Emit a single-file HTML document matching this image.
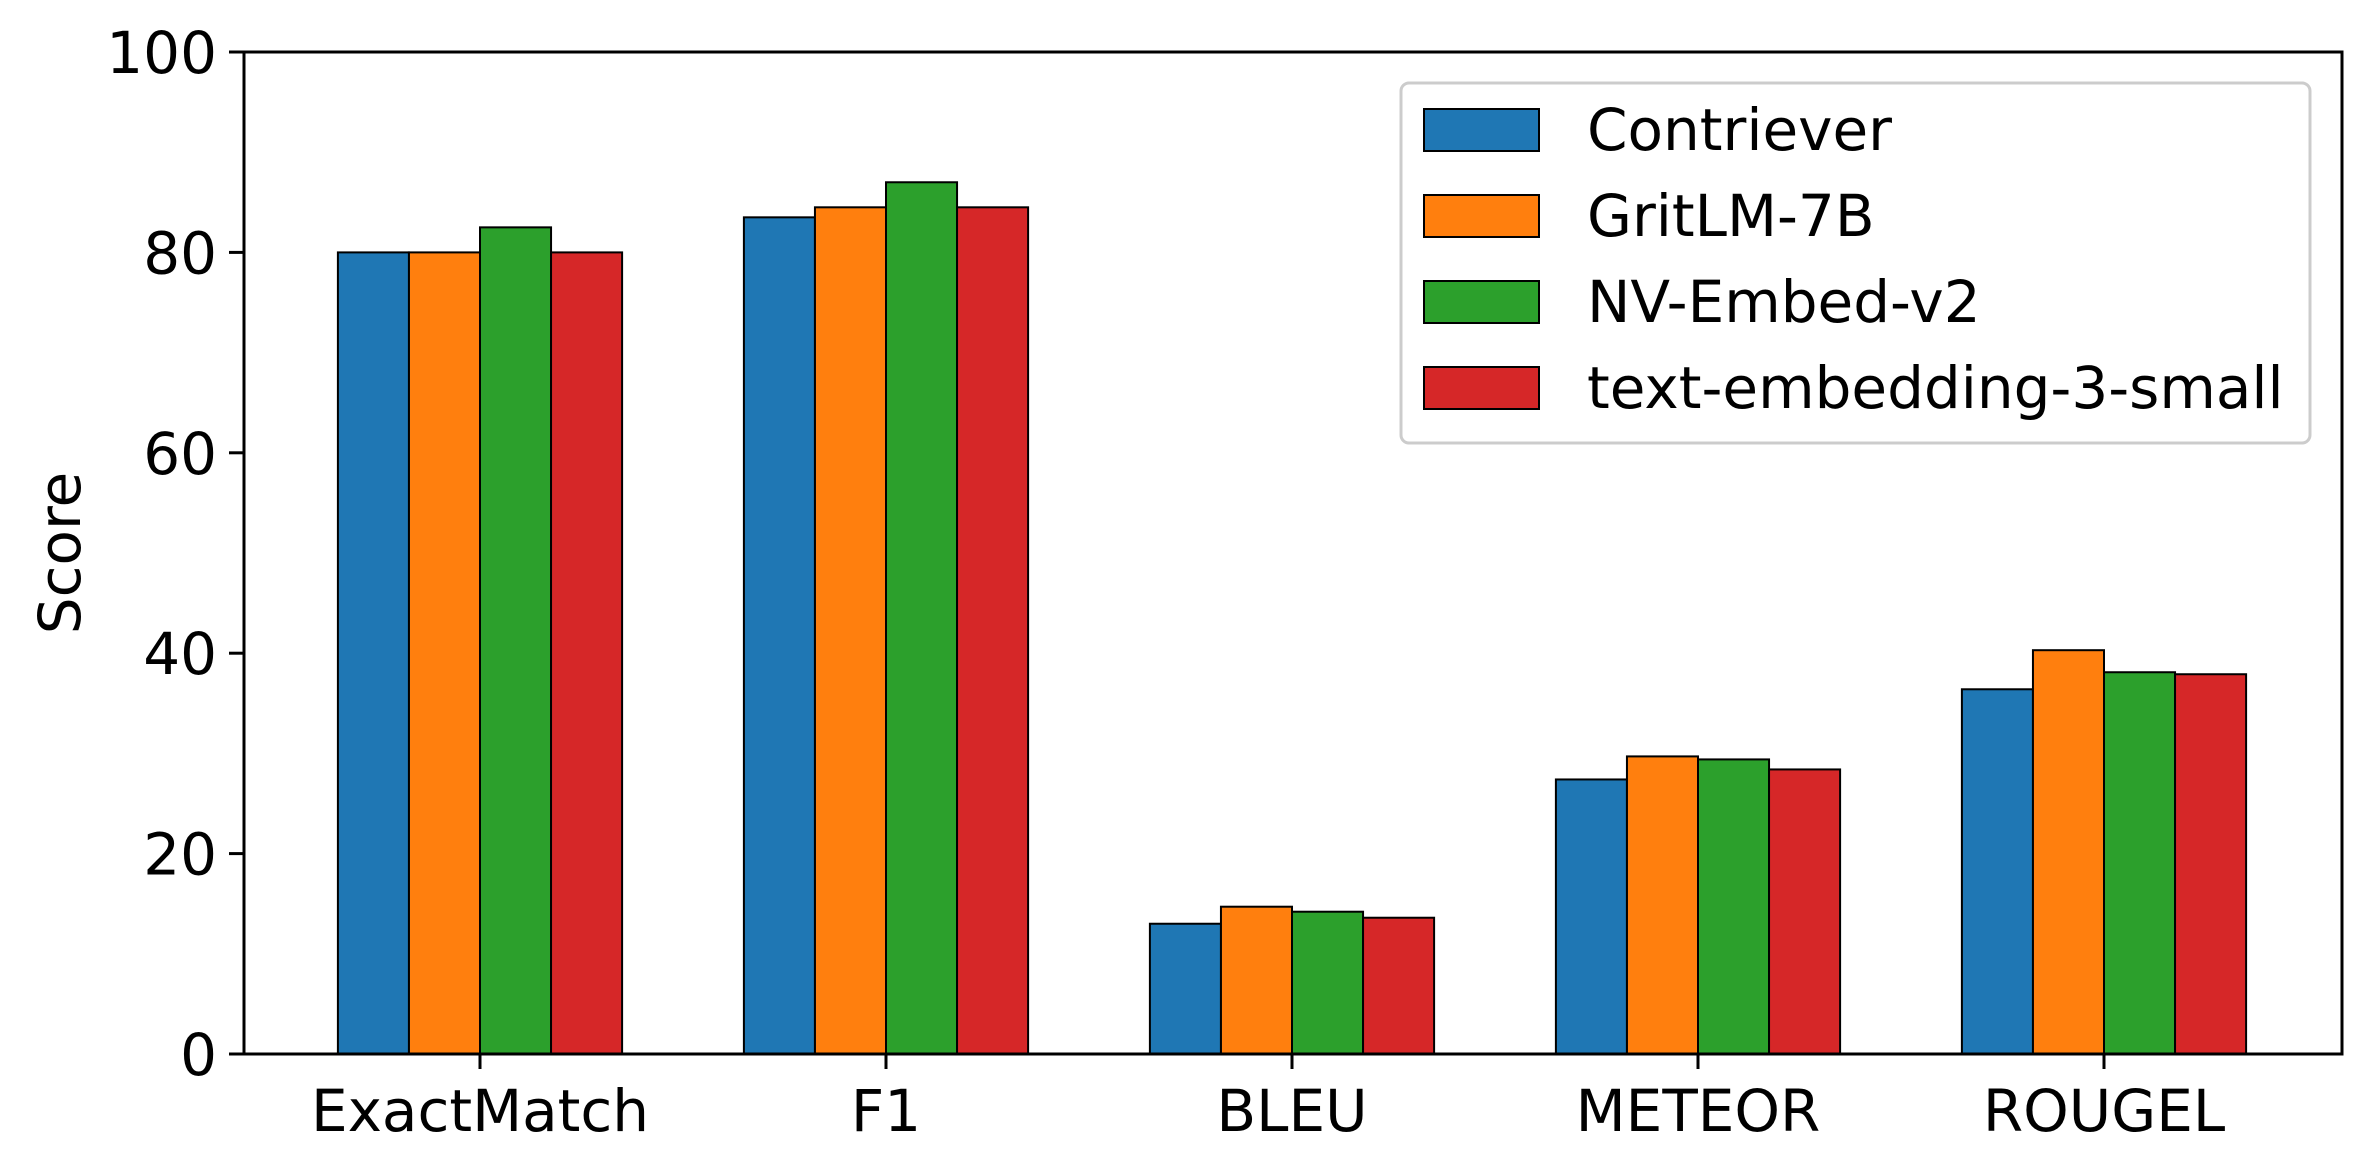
<!DOCTYPE html>
<html><head><meta charset="utf-8"><style>body{margin:0;background:#fff}svg{display:block;font-family:"DejaVu Sans","Liberation Sans",sans-serif}</style></head>
<body>
<svg id="chart" width="2370" height="1170" viewBox="0 0 2370 1170" xmlns="http://www.w3.org/2000/svg"></svg>
<script>
const categories = ["ExactMatch","F1","BLEU","METEOR","ROUGEL"];
const seriesNames = ["Contriever","GritLM-7B","NV-Embed-v2","text-embedding-3-small"];
const contriever = [80, 83.5, 13.0, 27.4, 36.4];
const gritlm = [80, 84.5, 14.7, 29.7, 40.3];
const nvembed = [82.5, 87.0, 14.2, 29.4, 38.1];
const textemb = [80, 84.5, 13.6, 28.4, 37.9];
const yTicks = [0, 20, 40, 60, 80, 100];

const series = [contriever, gritlm, nvembed, textemb];
const colors = ["#1f77b4","#ff7f0e","#2ca02c","#d62728"];
const NS = "http://www.w3.org/2000/svg";
const svg = document.getElementById("chart");
const L = 244, R = 2342, T = 52, B = 1054;
const yMax = 100;
const FS = 58;
function y(v){ return B - (v / yMax) * (B - T); }
const xStart = 480, xStep = 406;
function x(i){ return xStart + i * xStep; }
const barW = xStep * 0.175;
function mk(tag, attrs){ const e = document.createElementNS(NS, tag); for (const k in attrs) e.setAttribute(k, attrs[k]); svg.appendChild(e); return e; }

series.forEach((vals, s) => {
  vals.forEach((v, i) => {
    const bx = x(i) - 2 * barW + s * barW;
    const r = mk("rect", {x: bx, y: y(v), width: barW, height: B - y(v), fill: colors[s], stroke: "#000", "stroke-width": 2});
    
    
  });
});

const frame = mk("rect", {x: L, y: T, width: R - L, height: B - T, fill: "none", stroke: "#000", "stroke-width": 3});



yTicks.forEach(t => {
  const ln = mk("line", {x1: L - 15, x2: L, y1: y(t), y2: y(t), stroke: "#000", "stroke-width": 3});
  
  
  const tx = mk("text", {x: L - 27, y: y(t) + 21, "font-size": FS, "text-anchor": "end"});
  tx.textContent = t;
  
  
});

categories.forEach((c, i) => {
  const ln = mk("line", {x1: x(i), x2: x(i), y1: B, y2: B + 15, stroke: "#000", "stroke-width": 3});
  
  
  const tx = mk("text", {x: x(i), y: 1131, "font-size": FS, "text-anchor": "middle"});
  tx.textContent = c;
  
  
});

const yt = mk("text", {x: 0, y: 0, "font-size": FS, "text-anchor": "middle", transform: "translate(80,553) rotate(-90)"});
yt.textContent = "Score";



const lg = mk("rect", {x: 1401, y: 83, width: 909, height: 360, rx: 8, fill: "#fff", "fill-opacity": 0.8, stroke: "#ccc", "stroke-width": 3});


seriesNames.forEach((n, s) => {
  const cy = 130 + s * 86;
  const p = mk("rect", {x: 1424, y: cy - 21, width: 115, height: 42, fill: colors[s], stroke: "#000", "stroke-width": 2});
  
  
  const tx = mk("text", {x: 1587, y: cy + 20, "font-size": FS});
  tx.textContent = n;
  
  
});
</script>
</body></html>
